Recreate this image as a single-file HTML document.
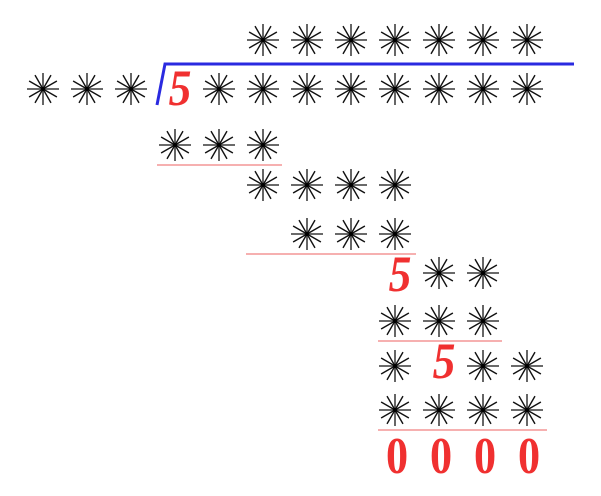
<!DOCTYPE html>
<html><head><style>body{margin:0;background:#fff}</style></head><body>
<svg width="601" height="491" xmlns="http://www.w3.org/2000/svg">
<defs>
<g id="s" stroke="#111" stroke-width="1.4">
<line x1="-16" y1="0" x2="16" y2="0" stroke="#555" stroke-width="1.8"/><line x1="0" y1="-16" x2="0" y2="16" stroke="#555" stroke-width="1.8"/>
<line x1="-13.9" y1="-8" x2="13.9" y2="8"/><line x1="-13.9" y1="8" x2="13.9" y2="-8"/>
<line x1="-8" y1="-13.9" x2="8" y2="13.9"/><line x1="-8" y1="13.9" x2="8" y2="-13.9"/>
<circle r="2" fill="#000" stroke="none"/>
</g>
</defs>
<g>
<use href="#s" x="263" y="40"/><use href="#s" x="307" y="40"/><use href="#s" x="351" y="40"/><use href="#s" x="395" y="40"/><use href="#s" x="439" y="40"/><use href="#s" x="483" y="40"/><use href="#s" x="527" y="40"/>
<use href="#s" x="43" y="89"/><use href="#s" x="87" y="89"/><use href="#s" x="131" y="89"/>
<use href="#s" x="219" y="89"/><use href="#s" x="263" y="89"/><use href="#s" x="307" y="89"/><use href="#s" x="351" y="89"/><use href="#s" x="395" y="89"/><use href="#s" x="439" y="89"/><use href="#s" x="483" y="89"/><use href="#s" x="527" y="89"/>
<use href="#s" x="175" y="145"/><use href="#s" x="219" y="145"/><use href="#s" x="263" y="145"/>
<use href="#s" x="263" y="185"/><use href="#s" x="307" y="185"/><use href="#s" x="351" y="185"/><use href="#s" x="395" y="185"/>
<use href="#s" x="307" y="234"/><use href="#s" x="351" y="234"/><use href="#s" x="395" y="234"/>
<use href="#s" x="439" y="273"/><use href="#s" x="483" y="273"/>
<use href="#s" x="395" y="321"/><use href="#s" x="439" y="321"/><use href="#s" x="483" y="321"/>
<use href="#s" x="395" y="366"/><use href="#s" x="483" y="366"/><use href="#s" x="527" y="366"/>
<use href="#s" x="395" y="410"/><use href="#s" x="439" y="410"/><use href="#s" x="483" y="410"/><use href="#s" x="527" y="410"/>
</g>
<polyline points="157,105 165,64 574,64" fill="none" stroke="#2a2ae0" stroke-width="3"/>
<g stroke="#f08080" stroke-width="1.2">
<line x1="157" y1="165" x2="282" y2="165"/>
<line x1="246" y1="254" x2="416" y2="254"/>
<line x1="378" y1="341" x2="502" y2="341"/>
<line x1="378" y1="430" x2="547" y2="430"/>
</g>
<g fill="#f03030" font-family="Liberation Serif, serif" font-weight="bold" font-size="48" text-anchor="middle" font-style="italic">
<text transform="translate(180,105) scale(0.95,1.05)">5</text>
<text transform="translate(400,291) scale(0.95,1.05)">5</text>
<text transform="translate(444,378) scale(0.95,1.05)">5</text>
</g>
<g fill="#f03030" font-family="Liberation Serif, serif" font-weight="bold" font-size="52" text-anchor="middle">
<text transform="translate(397,473) scale(0.85,1)">0</text>
<text transform="translate(441,473) scale(0.85,1)">0</text>
<text transform="translate(485,473) scale(0.85,1)">0</text>
<text transform="translate(529,473) scale(0.85,1)">0</text>
</g>
</svg>
</body></html>
